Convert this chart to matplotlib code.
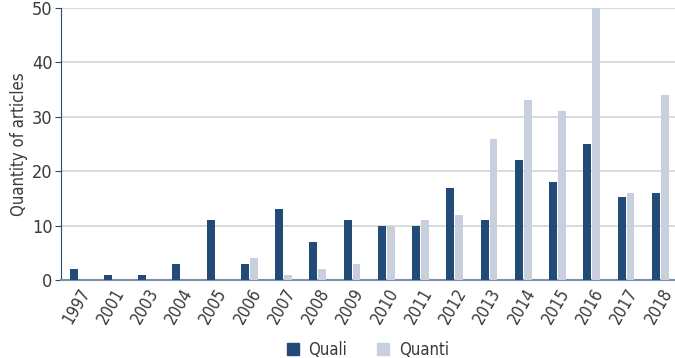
import matplotlib
matplotlib.use("Agg")
import matplotlib.pyplot as plt
import numpy as np
from matplotlib.patches import Patch

years = ["1997", "2001", "2003", "2004", "2005", "2006", "2007", "2008", "2009",
         "2010", "2011", "2012", "2013", "2014", "2015", "2016", "2017", "2018"]
quali = [2, 1, 1, 3, 11, 3, 13, 7, 11, 10, 10, 17, 11, 22, 18, 25, 15.2, 16]
quanti = [0, 0, 0, 0, 0, 4, 1, 2, 3, 10, 11, 12, 26, 33, 31, 50, 16, 34]

plt.rcParams['font.family'] = ['DejaVu Sans']
plt.rcParams['font.stretch'] = 'condensed'

dark = "#234b78"
light = "#c9d0dd"
text_c = "#3a3a3a"

fig = plt.figure(figsize=(6.75, 3.58), dpi=100)
ax = fig.add_axes([61/675, 1-280/358, 1-61/675, (280-8)/358])

x = np.arange(len(years))
w = 0.23
ax.bar(x - 0.13, quali, width=w, color=dark, zorder=3)
ax.bar(x + 0.13, quanti, width=w, color=light, zorder=3)

ax.set_ylim(0, 50)
ax.set_xlim(-0.5, 17.43)
ax.set_yticks([0, 10, 20, 30, 40, 50])
ax.yaxis.grid(True, color="#d4d4d4", linewidth=1.2, zorder=0)
ax.tick_params(axis='y', length=4, color="#2a4a70", labelsize=13, labelcolor=text_c, pad=2)
ax.set_xticks(x)
ax.set_xticklabels(years, rotation=60, ha='right', rotation_mode='anchor', fontsize=12, color=text_c)
ax.tick_params(axis='x', length=0, pad=4)
for s in ['top', 'right']:
    ax.spines[s].set_visible(False)
ax.spines['left'].set_color("#2a4a70")
ax.spines['bottom'].set_color("#7d8fa6")
ax.spines['bottom'].set_linewidth(1.5)
ax.set_ylabel("Quantity of articles", fontsize=12, color=text_c, labelpad=3)

handles = [Patch(color=dark, label="Quali"), Patch(color=light, label="Quanti")]
fig.legend(handles=handles, loc='lower center', bbox_to_anchor=(0.545, -0.045), ncol=2,
           frameon=False, fontsize=12, handlelength=0.7, handleheight=0.7,
           columnspacing=1.8, handletextpad=0.6, labelcolor=text_c)

fig.savefig("out.png", dpi=100)
